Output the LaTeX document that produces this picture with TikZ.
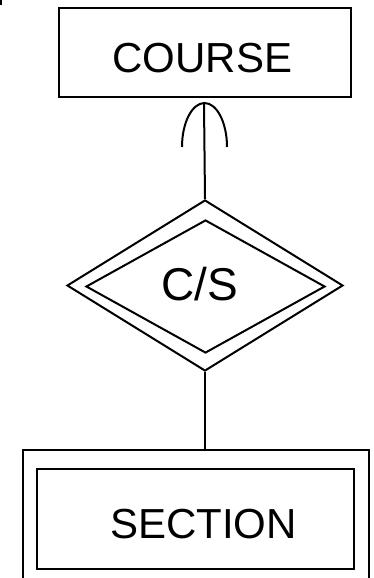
\documentclass[tikz,border=0pt]{standalone}
\usepackage{fontspec}
\setmainfont{Liberation Sans}
\usetikzlibrary{shapes.geometric}
\tikzset{
  ln/.style={line width=2pt, line cap=butt},
  entbox/.style={ln, draw, rectangle, inner sep=0pt},
  reldia/.style={ln, draw, diamond, inner sep=0pt},
  lbl/.style={inner sep=0pt, anchor=base}
}
\begin{document}
\begin{tikzpicture}[x=1pt,y=-1pt]
\useasboundingbox (0,0) rectangle (374,578);
\clip (0,0) rectangle (374,578);
% tiny mark at top-left corner
\fill (0,0) rectangle (2,5);
% COURSE entity
\node[entbox, minimum width=292pt, minimum height=88pt] (course) at (205,52.5) {};
\node[lbl, font=\fontsize{42pt}{42pt}\selectfont] (coursetxt) at (202.5,73) {COURSE};
% relationship C/S (double diamond)
\node[reldia, minimum width=276pt, minimum height=171pt] (rel) at (205,285.5) {};
\node[reldia, minimum width=239pt, minimum height=133pt] (relin) at (205.5,286.5) {};
\node[lbl, font=\fontsize{46pt}{46pt}\selectfont] (cstxt) at (199.5,300) {C/S};
% SECTION weak entity
\node[entbox, minimum width=345.5pt, minimum height=180pt] (section) at (195.75,539.5) {};
\node[entbox, minimum width=316.5pt, minimum height=99.5pt] (sectionin) at (195.25,518.75) {};
\node[lbl, font=\fontsize{42pt}{42pt}\selectfont] (sectiontxt) at (203.5,538) {SECTION};
% connectors
\coordinate (arctop) at (204,104);
\draw[ln] (arctop) -- (rel.north);
\draw[ln] (182,147) arc[start angle=180, end angle=0, x radius=22.5pt, y radius=44pt];
\draw[ln] (rel.south) -- (rel.south |- section.north);
\end{tikzpicture}
\end{document}
